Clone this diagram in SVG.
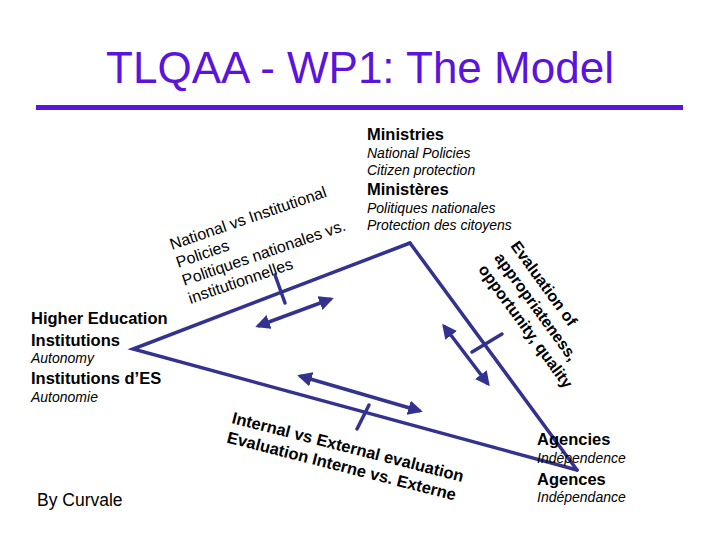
<svg xmlns="http://www.w3.org/2000/svg" width="720" height="540" viewBox="0 0 720 540">
<style>
text{font-family:"Liberation Sans",Arial,sans-serif;fill:#000}
.title{font-size:44px;fill:#5a14dc}
.b{font-size:16.5px;font-weight:bold}
.i{font-size:14px;font-style:italic}
.r{font-size:16px}
.ln{stroke:#33338f;stroke-width:3.5;fill:none;stroke-linecap:round}
.ar{stroke:#33338f;stroke-width:3.5;fill:none;marker-start:url(#ah);marker-end:url(#ah)}
</style>
<defs>
<marker id="ah" viewBox="0 0 10 10" refX="8" refY="5" markerWidth="4.2" markerHeight="4.2" orient="auto-start-reverse" markerUnits="strokeWidth">
<path d="M0,0 L10,5 L0,10 z" fill="#33338f"/>
</marker>
</defs>
<rect width="720" height="540" fill="#fff"/>
<g id="title">
<text class="title" x="360" y="83" text-anchor="middle">TLQAA - WP1: The Model</text>
<rect x="36" y="105" width="647" height="5" fill="#5a14dc"/>
</g>
<g id="connectors">
<polyline class="ln" points="410,243 133,349 577,470"/>
<line class="ln" x1="410" y1="243" x2="577" y2="470"/>
<line class="ln" x1="275" y1="275" x2="285" y2="303"/>
<line class="ln" x1="472" y1="352" x2="502" y2="334"/>
<line class="ln" x1="357" y1="429" x2="369" y2="405"/>
<line class="ar" x1="258" y1="326" x2="331" y2="299"/>
<line class="ar" x1="444" y1="326" x2="488" y2="384"/>
<line class="ar" x1="300" y1="376" x2="420" y2="411"/>
</g>
<g id="ministries">
<text class="b" x="367" y="140">Ministries</text>
<text class="i" x="367" y="158">National Policies</text>
<text class="i" x="367" y="175">Citizen protection</text>
<text class="b" x="367" y="195">Ministères</text>
<text class="i" x="367" y="213">Politiques nationales</text>
<text class="i" x="367" y="230">Protection des citoyens</text>
</g>
<g id="hei">
<text class="b" x="31" y="324">Higher Education</text>
<text class="b" x="31" y="346">Institutions</text>
<text class="i" x="31" y="363">Autonomy</text>
<text class="b" x="31" y="384">Institutions d’ES</text>
<text class="i" x="31" y="402">Autonomie</text>
</g>
<g id="agencies">
<text class="b" x="537" y="445">Agencies</text>
<text class="i" x="537" y="463">Indépendence</text>
<text class="b" x="537" y="485">Agences</text>
<text class="i" x="537" y="502">Indépendance</text>
</g>
<g id="label-policies">
<text class="r" transform="translate(172,250) rotate(-19)">
<tspan x="0" y="0">National vs Institutional</tspan>
<tspan x="0" y="19">Policies</tspan>
<tspan x="0" y="38">Politiques nationales vs.</tspan>
<tspan x="0" y="57">institutionnelles</tspan>
</text>
</g>
<g id="label-evaluation">
<text class="b" style="font-size:16px" transform="translate(510,246) rotate(54)">
<tspan x="0" y="0">Evaluation of</tspan>
<tspan x="0" y="20">appropriateness,</tspan>
<tspan x="0" y="40">opportunity, quality</tspan>
</text>
</g>
<g id="label-internal">
<text class="b" transform="translate(231,423) rotate(14.3)">
<tspan x="0" y="0">Internal vs External evaluation</tspan>
<tspan x="0" y="20">Evaluation Interne vs. Externe</tspan>
</text>
</g>
<g id="author">
<text class="r" style="font-size:17.5px" x="37" y="506">By Curvale</text>
</g>
</svg>
